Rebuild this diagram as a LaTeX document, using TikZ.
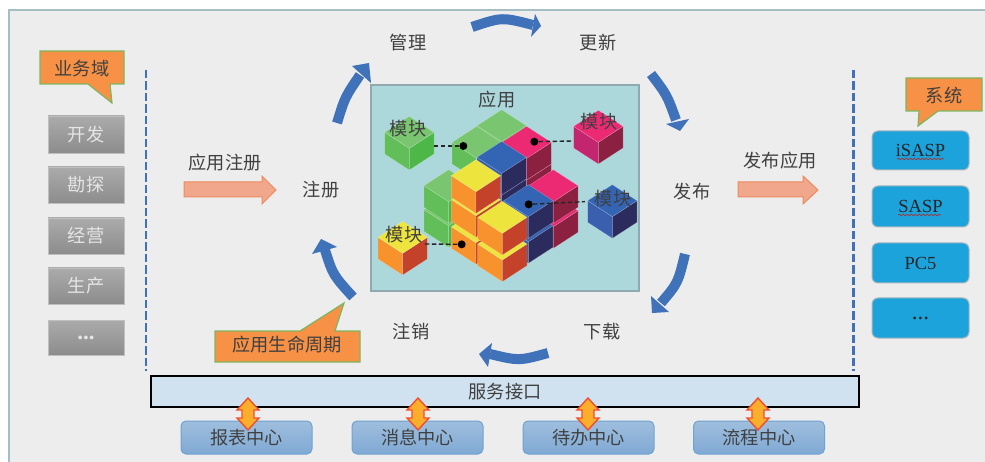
\documentclass[tikz,border=0pt]{standalone}
\usepackage{fontspec}
\setmainfont{Liberation Serif}
\newfontfamily\cjk{Noto Sans CJK SC}
\usetikzlibrary{decorations.pathmorphing}
\definecolor{bgc}{HTML}{EDEDED}
\definecolor{framec}{HTML}{A5BEC4}
\definecolor{panelc}{HTML}{ACD7DB}
\definecolor{panelb}{HTML}{8FA9AF}
\definecolor{txt}{HTML}{404040}
\definecolor{calloutf}{HTML}{F79145}
\definecolor{calloutb}{HTML}{7DB660}
\definecolor{bluec}{HTML}{3F72B8}
\definecolor{sysf}{HTML}{1CA3DC}
\definecolor{sysb}{HTML}{A9B6BC}
\definecolor{arrf}{HTML}{F0A78C}
\definecolor{arrb}{HTML}{EE8A5E}
\definecolor{barf}{HTML}{D0E2F0}
\definecolor{dblf}{HTML}{FBAE2C}
\definecolor{dblb}{HTML}{F04E30}
\definecolor{cbT}{HTML}{9FBEDD}\definecolor{cbB}{HTML}{7FA9D4}\definecolor{cbE}{HTML}{6FA3D0}
\definecolor{gT}{HTML}{7AC670}\definecolor{gL}{HTML}{62BE58}\definecolor{gR}{HTML}{4DB848}
\definecolor{oT}{HTML}{EDE43E}\definecolor{oL}{HTML}{F7922C}\definecolor{oR}{HTML}{C4412A}
\definecolor{pT}{HTML}{EC2A73}\definecolor{pL}{HTML}{C2266E}\definecolor{pR}{HTML}{8C2040}
\definecolor{bT}{HTML}{3464B4}\definecolor{bL}{HTML}{3A5FAE}\definecolor{bR}{HTML}{2C2B5E}
\tikzset{
  label text/.style={font=\cjk\fontsize{18.2}{20}\selectfont,text=txt,inner sep=0pt,yshift=-.7pt},
  graybox/.style={minimum width=76pt,inner sep=0pt,top color=black!33,bottom color=black!45,draw=black!25,line width=.8pt,font=\cjk\fontsize{18.2}{20}\selectfont,text=white!90!black},
  sysbox/.style={minimum width=97pt,inner sep=0pt,rounded corners=6pt,fill=sysf,draw=sysb,line width=1pt,font=\fontsize{18.5}{20}\selectfont,text=black!85},
  centerbox/.style={minimum width=131pt,minimum height=33pt,inner sep=0pt,rounded corners=5pt,top color=cbT,bottom color=cbB,draw=cbE,line width=1pt,font=\cjk\fontsize{18.2}{20}\selectfont,text=txt},
  callout/.style={fill=calloutf,draw=calloutb,line width=1.2pt,line join=miter},
  flowarrow/.style={fill=arrf,draw=arrb,line width=1pt},
  cyclearrow/.style={draw=bluec,line width=10pt},
  cyclehead/.style={fill=bluec},
  pdash/.style={draw=black!85,line width=1.4pt,dash pattern=on 4.5pt off 2.5pt},
  pdot/.style={circle,fill=black,inner sep=0pt,minimum size=8pt},
  sep/.style={draw=bluec,line width=2.7pt,dash pattern=on 8.5pt off 3pt},
  wavy/.style={draw=red!55!black!80,line width=.7pt,decorate,decoration={snake,amplitude=.8pt,segment length=4pt}},
  dbl/.style={fill=dblf,draw=dblb,line width=1.4pt,line join=miter}
}
\newcommand{\isocube}[5]{%
  \fill[#4,draw=white,draw opacity=.3,line width=.4pt] (#1,#2) -- ++(-74,-48) -- ++(0,65) -- ++(74,48) -- cycle;
  \fill[#5,draw=white,draw opacity=.3,line width=.4pt] (#1,#2) -- ++(74,-48) -- ++(0,65) -- ++(-74,48) -- cycle;
  \fill[#3,draw=white,draw opacity=.3,line width=.4pt] (#1,#2) -- ++(-74,-48) -- ++(74,-48) -- ++(74,48) -- cycle;
}
\newcommand{\dblarrow}[1]{%
  \draw[dbl] (#1,398) -- ++(11,12) -- ++(-5,0) -- ++(0,8) -- ++(5,0) -- ++(-11,12) -- ++(-11,-12) -- ++(5,0) -- ++(0,-8) -- ++(-5,0) -- cycle;
}
\begin{document}
\begin{tikzpicture}[x=1pt,y=-1pt]
\useasboundingbox (0,0) rectangle (985,462);
\fill[white] (0,0) rectangle (985,462);
\fill[bgc] (9,10) rectangle (985,462);
\draw[framec,line width=1.2pt] (9,462) -- (9,10) -- (985,10);

% separators
\coordinate (sepLa) at (146,70); \coordinate (sepLb) at (146,371);
\coordinate (sepRa) at (853.5,70); \coordinate (sepRb) at (853.5,371);
\draw[sep] (sepLa) -- (sepLb);
\draw[sep] (sepRa) -- (sepRb);

% business domain
\draw[callout] (40,51) -- (124,51) -- (124,84) -- (110,84) -- (112,103) -- (88,84) -- (40,84) -- cycle;
\node[label text] (yewu) at (82,67.5) {业务域};
\node[graybox,minimum height=37pt] (kf) at (86,134.5) {开发};
\node[graybox,minimum height=36pt] (kt) at (86,185) {勘探};
\node[graybox,minimum height=36pt] (jy) at (86,236) {经营};
\node[graybox,minimum height=36pt] (sc) at (86,286) {生产};
\node[graybox,minimum height=35pt,font=\fontsize{23}{24}\selectfont\bfseries] (dotsL) at (86,337.5) {...};

% flow arrows
\draw[flowarrow] (184,182) -- (262,182) -- (262,176) -- (276,190) -- (262,204) -- (262,197) -- (184,197) -- cycle;
\node[label text] (yyzc) at (225,162) {应用注册};
\draw[flowarrow] (738,182) -- (803,182) -- (803,176) -- (818,190) -- (803,204) -- (803,197) -- (738,197) -- cycle;
\node[label text] (fbyy) at (780,160) {发布应用};

% panel
\fill[panelc,draw=panelb,line width=1.5pt] (371,85) rectangle (639,291);
\begin{scope}[shift={(360pt,-80pt)},x=.33333pt,y=-.33333pt]
  \isocube{425}{185}{gT}{gL}{gR}
  \isocube{350}{235}{gT}{gL}{gR}
  \isocube{500}{300}{pT}{pL}{pR}
  \isocube{500}{235}{pT}{pL}{pR}
  \isocube{425}{345}{bT}{bL}{bR}
  \isocube{425}{280}{bT}{bL}{bR}
  \isocube{266}{437}{gT}{gL}{gR}
  \isocube{266}{365}{gT}{gL}{gR}
  \isocube{580}{440}{pT}{pL}{pR}
  \isocube{580}{365}{pT}{pL}{pR}
  \isocube{505}{485}{bT}{bL}{bR}
  \isocube{505}{410}{bT}{bL}{bR}
  \isocube{348}{488}{oT}{oL}{oR}
  \isocube{348}{407}{oT}{oL}{oR}
  \isocube{348}{335}{oT}{oL}{oR}
  \isocube{427}{540}{oT}{oL}{oR}
  \isocube{427}{460}{oT}{oL}{oR}
  % loose cubes
  \isocube{148}{205}{gT}{gL}{gR}
  \isocube{715}{187}{pT}{pL}{pR}
  \isocube{757}{410}{bT}{bL}{bR}
  \isocube{128}{520}{oT}{oL}{oR}
  % dots and dashes
  \node[pdot] (dotG) at (310,198) {};
  \node[pdot] (dotP) at (523,185) {};
  \node[pdot] (dotB) at (506,373) {};
  \node[pdot] (dotO) at (305,493) {};
  \coordinate (endG) at (222,198);
  \coordinate (endP) at (640,183);
  \coordinate (endB) at (675,365);
  \coordinate (endO) at (192,492);
  \draw[pdash] (dotG) -- (endG);
  \draw[pdash] (dotP) -- (endP);
  \draw[pdash] (dotB) -- (endB);
  \draw[pdash] (dotO) -- (endO);
\end{scope}
\node[label text] (yy) at (497,99) {应用};
\node[label text] (mkG) at (408,128) {模块};
\node[label text] (mkP) at (599,121) {模块};
\node[label text] (mkB) at (613,198) {模块};
\node[label text] (mkO) at (404,234) {模块};

% stage labels
\node[label text] (zc) at (321,189) {注册};
\node[label text] (gl) at (408,42) {管理};
\node[label text] (gx) at (598,42) {更新};
\node[label text] (fb) at (692,191) {发布};
\node[label text] (xz) at (602,331) {下载};
\node[label text] (zx) at (411,331) {注销};

% cycle arrows
\coordinate (a1s) at (337,123); \coordinate (a1e) at (360,75);
\draw[cyclearrow] (a1s) .. controls (345,97) .. (a1e);
\fill[cyclehead] (369,63) -- (352,66) -- (371,83) -- cycle;
\coordinate (a2s) at (472,27); \coordinate (a2e) at (533,25);
\draw[cyclearrow] (a2s) .. controls (502,17) .. (a2e);
\fill[cyclehead] (541,26) -- (535,14) -- (531,37) -- cycle;
\coordinate (a3s) at (651,74); \coordinate (a3e) at (676,120);
\draw[cyclearrow] (a3s) .. controls (667,95) .. (a3e);
\fill[cyclehead] (680,131) -- (666,124) -- (689,119) -- cycle;
\coordinate (a4s) at (685,254); \coordinate (a4e) at (661,303);
\draw[cyclearrow] (a4s) .. controls (678,283) .. (a4e);
\fill[cyclehead] (652,313) -- (651,296) -- (669,312) -- cycle;
\coordinate (a5s) at (548,353); \coordinate (a5e) at (490,354);
\draw[cyclearrow] (a5s) .. controls (519,361) .. (a5e);
\fill[cyclehead] (479,354) -- (492,343) -- (488,367) -- cycle;
\coordinate (a6s) at (353,297); \coordinate (a6e) at (325,250);
\draw[cyclearrow] (a6s) .. controls (333,275) .. (a6e);
\fill[cyclehead] (321,239) -- (312,254) -- (337,247) -- cycle;

% lifecycle callout
\draw[callout] (215,331) -- (300,331) -- (344,303) -- (335,331) -- (360,331) -- (360,362) -- (215,362) -- cycle;
\node[label text] (smzq) at (287,344) {应用生命周期};

% systems
\draw[callout] (906,78) -- (982,78) -- (982,111) -- (938,111) -- (918,126) -- (919,111) -- (906,111) -- cycle;
\node[label text] (xt) at (944,95) {系统};
\node[sysbox,minimum height=39pt] (isasp) at (920.5,150.5) {iSASP};
\node[sysbox,minimum height=41pt] (sasp) at (920.5,206.5) {SASP};
\node[sysbox,minimum height=40pt] (pc) at (920.5,263) {PC5};
\node[sysbox,minimum height=40pt,font=\fontsize{23}{24}\selectfont] (dotsR) at (920.5,318) {...};
\coordinate (w1a) at (897,159); \coordinate (w1b) at (944,159);
\coordinate (w2a) at (898,215); \coordinate (w2b) at (941,215);
\draw[wavy] (w1a) -- (w1b);
\draw[wavy] (w2a) -- (w2b);

% service bar and centres
\node[draw=black,fill=barf,line width=1.5pt,minimum width=708pt,minimum height=31pt,label text,text=txt,inner sep=0pt,yshift=.7pt] (bar) at (505,391.5) {服务接口};
\node[centerbox] (c1) at (246.5,437.5) {\raisebox{-1.5pt}{报表中心}};
\node[centerbox] (c2) at (417.5,437.5) {\raisebox{-1.5pt}{消息中心}};
\node[centerbox] (c3) at (588.5,437.5) {\raisebox{-1.5pt}{待办中心}};
\node[centerbox] (c4) at (759,437.5) {\raisebox{-1.5pt}{流程中心}};
\dblarrow{248}
\dblarrow{418}
\dblarrow{588}
\dblarrow{758}
\end{tikzpicture}
\end{document}
